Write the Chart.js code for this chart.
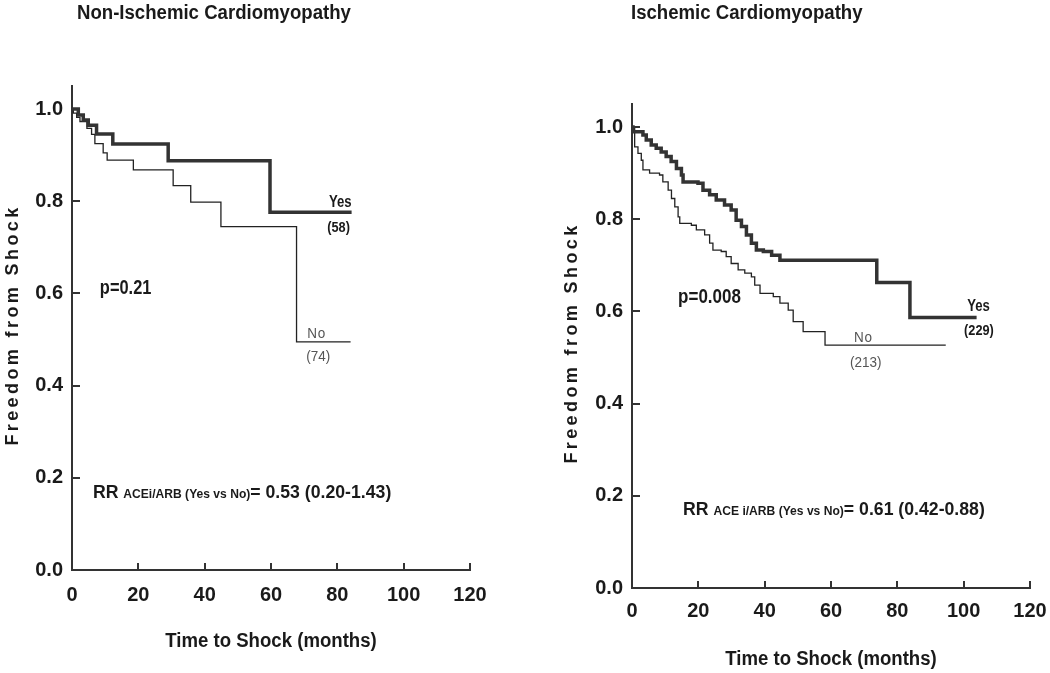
<!DOCTYPE html>
<html>
<head>
<meta charset="utf-8">
<script src="https://cdn.jsdelivr.net/npm/chart.js@4.4.1/dist/chart.umd.min.js"></script>
<style>
  body { margin: 0; background: #fff; width: 1050px; height: 673px; position: relative; overflow: hidden; }
  .panel { position: absolute; top: 0; width: 525px; height: 673px; }
</style>
</head>
<body>
<div class="panel" style="left:0"><canvas id="leftChart" width="525" height="673"></canvas></div>
<div class="panel" style="left:525px"><canvas id="rightChart" width="525" height="673"></canvas></div>
<script>
const xTicks = [0, 20, 40, 60, 80, 100, 120];
const yTicks = [0, 0.2, 0.4, 0.6, 0.8, 1.0];

// Non-ischemic cardiomyopathy
const nonIschYesTime = [0, 1.9, 3.4, 4.9, 7.4, 12.3, 29.0, 59.7, 84.3];
const nonIschYesSurv = [1.0, 0.987, 0.976, 0.965, 0.946, 0.924, 0.888, 0.776, 0.776];
const nonIschNoTime = [0, 0.4, 1.4, 2.4, 4.5, 5.9, 6.9, 9.4, 10.6, 18.5, 30.5, 35.8, 44.9, 67.7, 84.0];
const nonIschNoSurv = [1.0, 0.991, 0.982, 0.973, 0.958, 0.945, 0.925, 0.905, 0.889, 0.868, 0.834, 0.798, 0.745, 0.495, 0.495];

// Ischemic cardiomyopathy
const ischYesTime = [0, 0.3, 3.3, 4.3, 5.8, 7.3, 8.8, 10.3, 11.8, 13.4, 14.9, 15.4, 19.9, 21.4, 23.4, 25.4, 27.9, 29.9, 31.4, 33.0, 34.5, 36.0, 37.5, 39.6, 42.1, 44.6, 73.8, 83.8, 103.9];
const ischYesSurv = [1.0, 0.99, 0.983, 0.972, 0.961, 0.954, 0.946, 0.936, 0.925, 0.910, 0.896, 0.881, 0.878, 0.863, 0.853, 0.842, 0.831, 0.820, 0.798, 0.784, 0.766, 0.748, 0.733, 0.730, 0.722, 0.711, 0.663, 0.587, 0.587];
const ischNoTime = [0, 0.8, 1.8, 2.8, 3.3, 5.3, 8.3, 9.3, 10.9, 11.9, 12.9, 13.9, 14.4, 17.9, 19.4, 21.9, 23.4, 24.4, 26.9, 28.4, 29.9, 32.0, 34.0, 36.0, 37.0, 38.6, 42.6, 44.6, 47.1, 48.6, 51.6, 58.2, 94.6];
const ischNoSurv = [1.0, 0.957, 0.943, 0.928, 0.907, 0.900, 0.896, 0.881, 0.863, 0.845, 0.827, 0.805, 0.791, 0.787, 0.777, 0.766, 0.748, 0.733, 0.730, 0.719, 0.704, 0.690, 0.683, 0.675, 0.657, 0.639, 0.632, 0.618, 0.603, 0.578, 0.556, 0.527, 0.527];

const FONT = "'Liberation Sans', Arial, sans-serif";

function points(times, surv) {
  return times.map((t, i) => ({ x: t, y: surv[i] }));
}

// draws text squeezed horizontally, to look like the narrow face of the original
function squeezed(ctx, text, x, y, sx) {
  ctx.save();
  ctx.translate(x, y);
  ctx.scale(sx, 1);
  ctx.fillText(text, 0, 0);
  ctx.restore();
}

const kmText = {
  id: 'kmText',
  afterDraw(chart, args, opts) {
    const { ctx, chartArea } = chart;
    const x = chart.scales.x, y = chart.scales.y;
    ctx.save();

    // tick marks pointing into the plot
    ctx.strokeStyle = '#333';
    ctx.lineWidth = 2;
    x.ticks.forEach(t => {
      const px = Math.round(x.getPixelForValue(t.value));
      ctx.beginPath();
      ctx.moveTo(px, chartArea.bottom);
      ctx.lineTo(px, chartArea.bottom - 7);
      ctx.stroke();
    });
    y.ticks.forEach(t => {
      const py = Math.round(y.getPixelForValue(t.value));
      ctx.beginPath();
      ctx.moveTo(chartArea.left, py);
      ctx.lineTo(chartArea.left + 8, py);
      ctx.stroke();
    });

    ctx.fillStyle = '#1a1a1a';
    ctx.textBaseline = 'middle';

    // panel title
    ctx.font = 'bold 20px ' + FONT;
    ctx.textAlign = 'left';
    squeezed(ctx, opts.title, opts.titleX, 13, 0.93);

    // x axis title
    ctx.textAlign = 'center';
    squeezed(ctx, 'Time to Shock (months)', (chartArea.left + chartArea.right) / 2, chartArea.bottom + 71, 0.93);

    // y axis title
    ctx.save();
    ctx.translate(opts.yTitleX, (chartArea.top + chartArea.bottom) / 2 - 3);
    ctx.rotate(-Math.PI / 2);
    ctx.font = 'bold 18px ' + FONT;
    ctx.letterSpacing = '3.4px';
    ctx.fillText('Freedom from Shock', 0, 0);
    ctx.restore();

    // in-plot labels
    ctx.textAlign = 'left';
    ctx.textBaseline = 'alphabetic';
    opts.labels.forEach(l => {
      let px = x.getPixelForValue(l.x);
      const py = y.getPixelForValue(l.y);
      const sx = l.sx || 1;
      const widths = l.parts.map(p => {
        ctx.font = p.font;
        ctx.letterSpacing = p.spacing || '0px';
        return ctx.measureText(p.text).width * sx;
      });
      const total = widths.reduce((a, b) => a + b, 0);
      if (l.align === 'right') px -= total;
      ctx.fillStyle = l.color || '#1a1a1a';
      l.parts.forEach((p, i) => {
        ctx.font = p.font;
        ctx.letterSpacing = p.spacing || '0px';
        squeezed(ctx, p.text, px, py, sx);
        px += widths[i];
      });
    });
    ctx.restore();
  }
};

function rrParts(group, value) {
  return [
    { text: 'RR ', font: 'bold 19px ' + FONT },
    { text: group + ' (Yes vs No)', font: 'bold 13px ' + FONT },
    { text: value, font: 'bold 19px ' + FONT }
  ];
}

function makeChart(id, yesData, noData, pad, yWidth, tickPadX, textOpts) {
  return new Chart(document.getElementById(id), {
    type: 'line',
    data: {
      datasets: [
        { label: 'Yes', data: yesData, stepped: 'before', borderColor: '#333', borderWidth: 3.5, pointRadius: 0, fill: false },
        { label: 'No', data: noData, stepped: 'before', borderColor: '#222', borderWidth: 1.3, pointRadius: 0, fill: false }
      ]
    },
    options: {
      responsive: false,
      animation: false,
      devicePixelRatio: 1,
      layout: { padding: pad },
      plugins: {
        legend: { display: false },
        tooltip: { enabled: false },
        kmText: textOpts
      },
      scales: {
        x: {
          type: 'linear', min: 0, max: 120,
          afterBuildTicks: s => { s.ticks = xTicks.map(v => ({ value: v })); },
          afterFit: s => { s.height = 40; s.paddingLeft = 0; s.paddingRight = 0; },
          grid: { display: false, drawTicks: false },
          border: { display: true, color: '#333', width: 2 },
          ticks: { color: '#1a1a1a', padding: tickPadX, font: { family: FONT, size: 20, weight: 'bold' }, maxRotation: 0 }
        },
        y: {
          type: 'linear', min: 0, max: 1.05,
          afterBuildTicks: s => { s.ticks = yTicks.map(v => ({ value: v })); },
          afterFit: s => { s.width = yWidth; s.paddingTop = 0; s.paddingBottom = 0; },
          grid: { display: false, drawTicks: false },
          border: { display: true, color: '#333', width: 2 },
          ticks: { color: '#1a1a1a', padding: 9, font: { family: FONT, size: 20, weight: 'bold' }, callback: v => v.toFixed(1) }
        }
      }
    },
    plugins: [kmText]
  });
}

makeChart('leftChart',
  points(nonIschYesTime, nonIschYesSurv),
  points(nonIschNoTime, nonIschNoSurv),
  { left: 0, top: 86, right: 55, bottom: 63 }, 72, 13,
  {
    title: 'Non-Ischemic Cardiomyopathy', titleX: 77, yTitleX: 13,
    labels: [
      { x: 84.3, y: 0.787, align: 'right', sx: 0.82, parts: [{ text: 'Yes', font: 'bold 16px ' + FONT }] },
      { x: 83.8, y: 0.734, align: 'right', sx: 0.85, parts: [{ text: '(58)', font: 'bold 15px ' + FONT }] },
      { x: 70.9, y: 0.504, color: '#555', sx: 0.9, parts: [{ text: 'No', font: '15px ' + FONT, spacing: '1px' }] },
      { x: 70.6, y: 0.454, color: '#555', sx: 0.9, parts: [{ text: '(74)', font: '15px ' + FONT }] },
      { x: 8.4, y: 0.599, sx: 0.82, parts: [{ text: 'p=0.21', font: 'bold 20px ' + FONT }] },
      { x: 6.3, y: 0.156, sx: 0.93, parts: rrParts('ACEi/ARB', '= 0.53 (0.20-1.43)') }
    ]
  });

makeChart('rightChart',
  points(ischYesTime, ischYesSurv),
  points(ischNoTime, ischNoSurv),
  { left: 0, top: 104, right: 20, bottom: 45 }, 107, 11,
  {
    title: 'Ischemic Cardiomyopathy', titleX: 106, yTitleX: 47,
    labels: [
      { x: 107.9, y: 0.602, align: 'right', sx: 0.82, parts: [{ text: 'Yes', font: 'bold 16px ' + FONT }] },
      { x: 109.1, y: 0.549, align: 'right', sx: 0.85, parts: [{ text: '(229)', font: 'bold 15px ' + FONT }] },
      { x: 66.9, y: 0.534, color: '#555', sx: 0.9, parts: [{ text: 'No', font: '15px ' + FONT, spacing: '1px' }] },
      { x: 65.7, y: 0.480, color: '#555', sx: 0.9, parts: [{ text: '(213)', font: '15px ' + FONT }] },
      { x: 13.9, y: 0.618, sx: 0.85, parts: [{ text: 'p=0.008', font: 'bold 20px ' + FONT }] },
      { x: 15.4, y: 0.158, sx: 0.93, parts: rrParts('ACE i/ARB', '= 0.61 (0.42-0.88)') }
    ]
  });
</script>
</body>
</html>
